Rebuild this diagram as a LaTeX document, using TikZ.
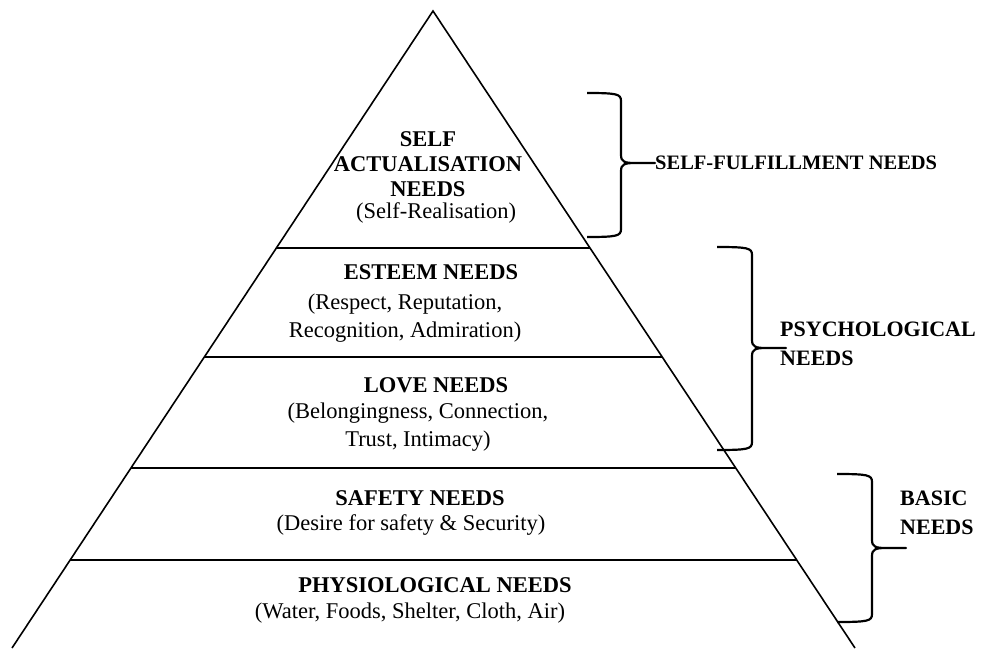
\documentclass[tikz,border=0pt]{standalone}
\usepackage{fontspec}
\setmainfont{Liberation Serif}
\usetikzlibrary{positioning,calc}

% curly brace: #1 arm x, #2 spine x, #3 top y, #4 tip y, #5 bottom y
\newcommand{\needsbrace}[5]{%
\draw[brace line] (#1,#3) .. controls (#2-4,#3) and (#2,#3+1) .. (#2,#3+8)
	-- (#2,#4-8) .. controls (#2,#4-1) and (#2+4,#4) .. (#2+14,#4)
	-- (#2+34,#4) -- (#2+14,#4)
	.. controls (#2+4,#4) and (#2,#4+1) .. (#2,#4+8)
	-- (#2,#5-8) .. controls (#2,#5-1) and (#2-4,#5) .. (#1,#5);
}

\begin{document}
\begin{tikzpicture}[x=1pt,y=-1pt,
	level title/.style={font=\fontsize{22.5}{25}\selectfont\bfseries, align=center, inner sep=0pt},
	level text/.style={font=\fontsize{22.5}{28}\selectfont, align=center, inner sep=0pt},
	group label/.style={font=\fontsize{22}{29}\selectfont\bfseries, align=left, anchor=west, inner sep=0pt},
	brace line/.style={line width=2.2pt, line join=round},
]
\useasboundingbox (0,0) rectangle (987,648);

% Pyramid
\coordinate (apex) at (433,11);
\coordinate (base_left) at (12,648);
\coordinate (base_right) at (855,648);
\draw[line width=1.6pt] (base_left) -- (apex) -- (base_right);

% Level dividers
\foreach \t in {0.372,0.543,0.7174,0.8619}
	\draw[line width=1.5pt] ($(apex)!\t!(base_left)$) -- ($(apex)!\t!(base_right)$);

% Self actualisation
\node [level title] (self_title) at (428,164) {SELF\\ACTUALISATION\\NEEDS};
\node [level text] (self_text) at (436,213) {(Self-Realisation)};

% Esteem
\node [level title] (esteem_title) at (431,272) {ESTEEM NEEDS};
\node [level text] (esteem_text) at (405,318) {(Respect, Reputation,\\Recognition, Admiration)};

% Love
\node [level title] (love_title) at (436,385) {LOVE NEEDS};
\node [level text] (love_text) at (418,427) {(Belongingness, Connection,\\Trust, Intimacy)};

% Safety
\node [level title] (safety_title) at (420,498) {SAFETY NEEDS};
\node [level text] (safety_text) at (411,525) {(Desire for safety \& Security)};

% Physiological
\node [level title] (physio_title) at (435,585) {PHYSIOLOGICAL NEEDS};
\node [level text] (physio_text) at (410,613) {(Water, Foods, Shelter, Cloth, Air)};

% Braces with group labels
\needsbrace{587}{621}{93}{163}{237}
\node [group label, font=\fontsize{20.5}{29}\selectfont\bfseries] (fulfilment_label) at (655,163) {SELF-FULFILLMENT NEEDS};

\needsbrace{717}{752}{247}{348}{450}
\node [group label] (psych_label) at (780,344) {PSYCHOLOGICAL\\NEEDS};

\needsbrace{837}{872}{474}{548}{622}
\node [group label] (basic_label) at (900,513) {BASIC\\NEEDS};

\end{tikzpicture}
\end{document}
